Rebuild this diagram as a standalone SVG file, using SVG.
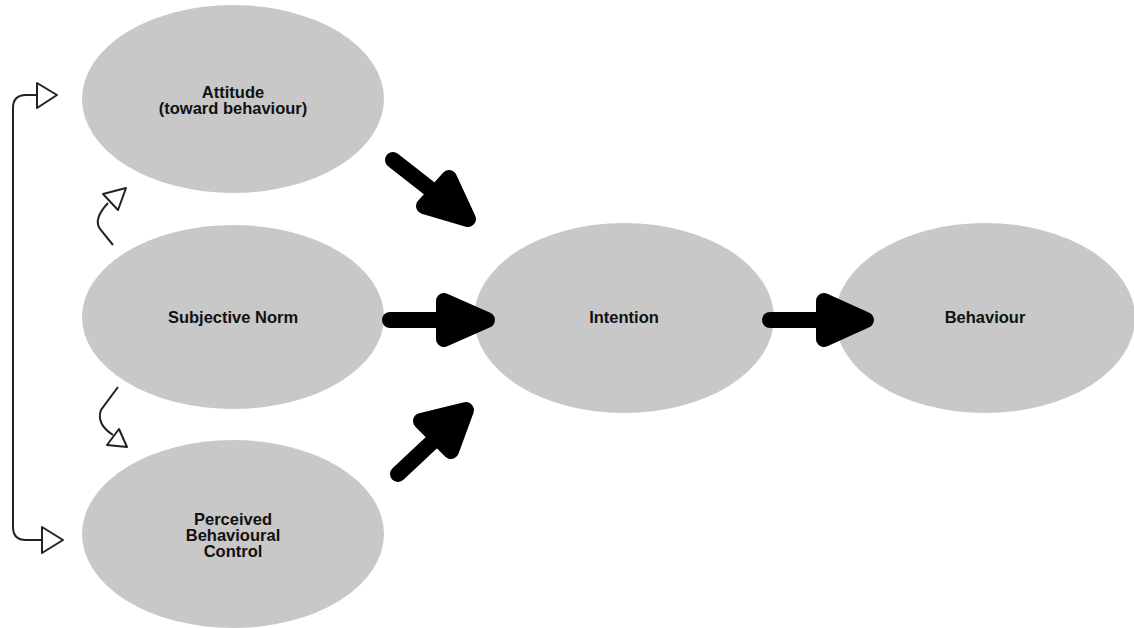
<svg xmlns="http://www.w3.org/2000/svg" width="1134" height="628" viewBox="0 0 1134 628">
<style>
.node{fill:#c8c8c8}
.lbl{font-family:"Liberation Sans",Arial,sans-serif;font-weight:bold;font-size:16.5px;fill:#111;text-anchor:middle}
.thick{fill:none;stroke:#000;stroke-width:16;stroke-linecap:round;stroke-linejoin:round}
.head{fill:#000;stroke:#000;stroke-width:16;stroke-linejoin:round}
.thin{fill:none;stroke:#222;stroke-width:2}
.open{fill:#fff;stroke:#222;stroke-width:2;stroke-linejoin:round}
</style>
<rect width="1134" height="628" fill="#fff"/>
<g id="attitude"><ellipse class="node" cx="233" cy="99" rx="151" ry="94"/><text class="lbl" x="233" y="98">Attitude</text><text class="lbl" x="233" y="114">(toward behaviour)</text></g>
<g id="subjective-norm"><ellipse class="node" cx="233" cy="317" rx="151" ry="92"/><text class="lbl" x="233" y="323">Subjective Norm</text></g>
<g id="pbc"><ellipse class="node" cx="233" cy="534" rx="151" ry="94"/><text class="lbl" x="233" y="525">Perceived</text><text class="lbl" x="233" y="541">Behavioural</text><text class="lbl" x="233" y="557">Control</text></g>
<g id="intention"><ellipse class="node" cx="624" cy="318" rx="150" ry="95"/><text class="lbl" x="624" y="323">Intention</text></g>
<g id="behaviour"><ellipse class="node" cx="985" cy="318" rx="150" ry="95"/><text class="lbl" x="985" y="323">Behaviour</text></g>
<g id="connectors">
<path class="thick" d="M393 160 L462 214"/>
<polygon class="head" points="449,178 468,219 424,206"/>
<path class="thick" d="M390 320 L480 320"/>
<polygon class="head" points="444,301 487,320 444,339"/>
<path class="thick" d="M398 474 L462 414"/>
<polygon class="head" points="421,421 466,410 451,451"/>
<path class="thick" d="M770 320 L860 320"/>
<polygon class="head" points="824,301 866,320 824,339"/>
<path class="thin" d="M37 95 L26 95 Q13 95 13 108 L13 527 Q13 540 26 540 L42 540"/>
<polygon class="open" points="37,83 57,95 37,108"/>
<polygon class="open" points="42,527 63,540 42,553"/>
<path class="thin" d="M113 245 L100 229 Q93 219 108 203"/>
<polygon class="open" points="126,188 103,194 118,210"/>
<path class="thin" d="M118 387 L101 410 Q96 424 113 435"/>
<polygon class="open" points="127,447 107,445 119,429"/>
</g>
</svg>
